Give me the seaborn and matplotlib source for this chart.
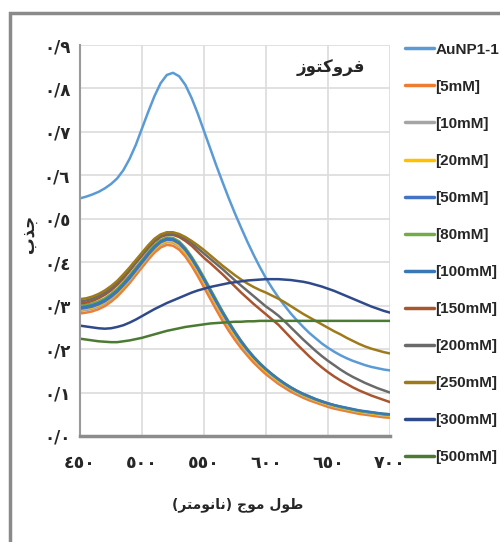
import numpy as np
import pandas as pd
import matplotlib
matplotlib.use("Agg")
import matplotlib.pyplot as plt
from matplotlib.patches import Rectangle
import seaborn as sns

# ---------------- data ----------------
wavelength = list(range(450, 701, 5))

series_names = ["AuNP1-1", "[5mM]", "[10mM]", "[20mM]", "[50mM]", "[80mM]",
                "[100mM]", "[150mM]", "[200mM]", "[250mM]", "[300mM]", "[500mM]"]

aunp = [0.547, 0.551, 0.556, 0.562, 0.570, 0.580, 0.593, 0.612, 0.638, 0.670,
        0.708, 0.746, 0.782, 0.812, 0.831, 0.836, 0.828, 0.808, 0.778, 0.742,
        0.702, 0.662, 0.622, 0.584, 0.547, 0.512, 0.479, 0.447, 0.417, 0.389,
        0.363, 0.340, 0.319, 0.300, 0.282, 0.266, 0.251, 0.237, 0.225, 0.213,
        0.203, 0.194, 0.186, 0.179, 0.173, 0.168, 0.163, 0.159, 0.156, 0.153,
        0.151]
c5 = [0.282, 0.284, 0.287, 0.292, 0.299, 0.309, 0.321, 0.336, 0.352, 0.370,
      0.388, 0.406, 0.422, 0.434, 0.440, 0.438, 0.429, 0.413, 0.392, 0.368,
      0.342, 0.316, 0.290, 0.265, 0.242, 0.221, 0.202, 0.185, 0.169, 0.155,
      0.142, 0.131, 0.120, 0.111, 0.102, 0.095, 0.088, 0.082, 0.077, 0.072,
      0.067, 0.063, 0.060, 0.057, 0.054, 0.051, 0.049, 0.047, 0.045, 0.043,
      0.042]
c10 = [0.288, 0.290, 0.293, 0.298, 0.305, 0.315, 0.327, 0.342, 0.358, 0.376,
       0.394, 0.412, 0.428, 0.440, 0.446, 0.445, 0.436, 0.421, 0.401, 0.378,
       0.353, 0.327, 0.301, 0.276, 0.252, 0.230, 0.210, 0.192, 0.176, 0.161,
       0.148, 0.136, 0.125, 0.116, 0.107, 0.099, 0.092, 0.086, 0.081, 0.076,
       0.071, 0.067, 0.064, 0.061, 0.058, 0.055, 0.053, 0.051, 0.049, 0.047,
       0.046]
c20 = [0.291, 0.293, 0.296, 0.301, 0.308, 0.318, 0.330, 0.345, 0.361, 0.379,
       0.397, 0.415, 0.431, 0.443, 0.449, 0.448, 0.439, 0.424, 0.404, 0.381,
       0.356, 0.330, 0.304, 0.279, 0.255, 0.233, 0.213, 0.195, 0.178, 0.163,
       0.150, 0.138, 0.127, 0.118, 0.109, 0.101, 0.094, 0.088, 0.082, 0.077,
       0.073, 0.069, 0.065, 0.062, 0.059, 0.056, 0.054, 0.052, 0.050, 0.048,
       0.047]
c50 = [0.293, 0.295, 0.298, 0.303, 0.310, 0.320, 0.332, 0.347, 0.363, 0.381,
       0.399, 0.417, 0.433, 0.446, 0.452, 0.451, 0.443, 0.428, 0.408, 0.385,
       0.360, 0.334, 0.308, 0.283, 0.259, 0.237, 0.216, 0.198, 0.181, 0.166,
       0.153, 0.141, 0.130, 0.120, 0.111, 0.103, 0.096, 0.090, 0.084, 0.079,
       0.075, 0.071, 0.067, 0.064, 0.061, 0.058, 0.056, 0.054, 0.052, 0.050,
       0.049]
c80 = [0.300, 0.302, 0.305, 0.310, 0.317, 0.327, 0.339, 0.354, 0.370, 0.388,
       0.405, 0.423, 0.439, 0.451, 0.457, 0.456, 0.448, 0.433, 0.413, 0.390,
       0.365, 0.339, 0.313, 0.287, 0.263, 0.240, 0.219, 0.200, 0.183, 0.168,
       0.154, 0.142, 0.131, 0.121, 0.112, 0.104, 0.097, 0.091, 0.085, 0.080,
       0.075, 0.071, 0.067, 0.064, 0.061, 0.058, 0.056, 0.054, 0.052, 0.051,
       0.050]
c100 = [0.296, 0.298, 0.301, 0.306, 0.313, 0.323, 0.335, 0.350, 0.366, 0.384,
        0.402, 0.420, 0.436, 0.448, 0.454, 0.453, 0.445, 0.430, 0.410, 0.387,
        0.362, 0.336, 0.310, 0.285, 0.261, 0.239, 0.218, 0.199, 0.182, 0.167,
        0.154, 0.142, 0.131, 0.121, 0.112, 0.104, 0.097, 0.091, 0.085, 0.080,
        0.075, 0.071, 0.068, 0.065, 0.062, 0.059, 0.057, 0.055, 0.053, 0.051,
        0.050]
c150 = [0.305, 0.307, 0.311, 0.317, 0.325, 0.335, 0.348, 0.363, 0.380, 0.398,
        0.415, 0.432, 0.447, 0.458, 0.463, 0.463, 0.458, 0.449, 0.438, 0.424,
        0.410, 0.398, 0.385, 0.372, 0.358, 0.344, 0.330, 0.317, 0.304, 0.292,
        0.280, 0.268, 0.256, 0.241, 0.226, 0.211, 0.197, 0.183, 0.170, 0.158,
        0.147, 0.137, 0.128, 0.120, 0.112, 0.105, 0.099, 0.093, 0.088, 0.083,
        0.078]
c200 = [0.310, 0.312, 0.316, 0.322, 0.330, 0.340, 0.353, 0.368, 0.384, 0.401,
        0.418, 0.435, 0.450, 0.461, 0.466, 0.466, 0.462, 0.454, 0.444, 0.432,
        0.420, 0.408, 0.396, 0.384, 0.371, 0.358, 0.346, 0.334, 0.322, 0.310,
        0.298, 0.288, 0.277, 0.264, 0.250, 0.236, 0.222, 0.209, 0.196, 0.184,
        0.173, 0.163, 0.153, 0.144, 0.136, 0.129, 0.122, 0.116, 0.110, 0.105,
        0.100]
c250 = [0.315, 0.317, 0.321, 0.327, 0.335, 0.345, 0.357, 0.372, 0.388, 0.405,
        0.422, 0.439, 0.454, 0.464, 0.469, 0.469, 0.465, 0.458, 0.449, 0.439,
        0.428, 0.416, 0.404, 0.392, 0.381, 0.370, 0.360, 0.351, 0.343, 0.336,
        0.330, 0.323, 0.316, 0.308, 0.299, 0.290, 0.281, 0.273, 0.265, 0.257,
        0.249, 0.241, 0.234, 0.226, 0.219, 0.212, 0.206, 0.201, 0.197, 0.193,
        0.190]
c300 = [0.254, 0.252, 0.250, 0.248, 0.247, 0.248, 0.251, 0.255, 0.261, 0.268,
        0.276, 0.284, 0.292, 0.299, 0.306, 0.312, 0.318, 0.324, 0.330, 0.335,
        0.339, 0.343, 0.346, 0.349, 0.352, 0.354, 0.356, 0.358, 0.359, 0.360,
        0.361, 0.361, 0.361, 0.360, 0.359, 0.357, 0.355, 0.352, 0.348, 0.344,
        0.339, 0.334, 0.328, 0.322, 0.316, 0.310, 0.304, 0.298, 0.293, 0.288,
        0.284]
c500 = [0.224, 0.222, 0.220, 0.218, 0.217, 0.216, 0.216, 0.218, 0.220, 0.223,
        0.226, 0.230, 0.234, 0.238, 0.242, 0.245, 0.248, 0.251, 0.253, 0.255,
        0.257, 0.259, 0.260, 0.261, 0.262, 0.263, 0.263, 0.264, 0.264, 0.265,
        0.265, 0.265, 0.265, 0.265, 0.265, 0.265, 0.265, 0.265, 0.265, 0.265,
        0.265, 0.265, 0.265, 0.265, 0.265, 0.265, 0.265, 0.265, 0.265, 0.265,
        0.265]

series_values = [aunp, c5, c10, c20, c50, c80, c100, c150, c200, c250, c300, c500]
for _v in series_values:
    assert len(_v) == len(wavelength)

colors = ["#5B9BD5", "#ED7D31", "#A5A5A5", "#FFC000", "#4472C4", "#70AD47",
          "#3A78B5", "#A9552F", "#6A6A6A", "#9E7A1A", "#2F4A8A", "#4B7A33"]

x_ticks = [450, 500, 550, 600, 650, 700]
x_tick_labels = ["٤٥٠", "٥٠٠", "٥٥٠", "٦٠٠", "٦٥٠", "٧٠٠"]
y_ticks = [0.0, 0.1, 0.2, 0.3, 0.4, 0.5, 0.6, 0.7, 0.8, 0.9]
y_tick_labels = ["٠/٠", "٠/١", "٠/٢", "٠/٣", "٠/٤", "٠/٥", "٠/٦", "٠/٧", "٠/٨", "٠/٩"]

title_text = "فروکتوز"
x_label = "طول موج (نانومتر)"
y_label = "جذب"

# ---------------- simple Arabic shaping for display ----------------
FORMS = {
    'ا': ('\uFE8D', '\uFE8E', None, None),
    'ب': ('\uFE8F', '\uFE90', '\uFE91', '\uFE92'),
    'ت': ('\uFE95', '\uFE96', '\uFE97', '\uFE98'),
    'ج': ('\uFE9D', '\uFE9E', '\uFE9F', '\uFEA0'),
    'ذ': ('\uFEAB', '\uFEAC', None, None),
    'ر': ('\uFEAD', '\uFEAE', None, None),
    'ز': ('\uFEAF', '\uFEB0', None, None),
    'ط': ('\uFEC1', '\uFEC2', '\uFEC3', '\uFEC4'),
    'ف': ('\uFED1', '\uFED2', '\uFED3', '\uFED4'),
    'ل': ('\uFEDD', '\uFEDE', '\uFEDF', '\uFEE0'),
    'م': ('\uFEE1', '\uFEE2', '\uFEE3', '\uFEE4'),
    'ن': ('\uFEE5', '\uFEE6', '\uFEE7', '\uFEE8'),
    'و': ('\uFEED', '\uFEEE', None, None),
    'ک': ('\uFB8E', '\uFB8F', '\uFB90', '\uFB91'),
}


def shape(s):
    out = []
    for i, c in enumerate(s):
        if c not in FORMS:
            out.append(c)
            continue
        prev = s[i - 1] if i > 0 else ''
        nxt = s[i + 1] if i + 1 < len(s) else ''
        jp = prev in FORMS and FORMS[prev][2] is not None
        jn = FORMS[c][2] is not None and nxt in FORMS
        f = FORMS[c]
        if jp and jn:
            out.append(f[3])
        elif jp:
            out.append(f[1])
        elif jn:
            out.append(f[2])
        else:
            out.append(f[0])
    vis = ''.join(reversed(out))
    return vis.translate(str.maketrans('()', ')('))


# ---------------- plot ----------------
rows = []
for name, vals in zip(series_names, series_values):
    for w, v in zip(wavelength, vals):
        rows.append({"wavelength": w, "absorbance": v, "series": name})
df = pd.DataFrame(rows)

sns.set_style("white")
plt.rcParams['font.family'] = ['DejaVu Sans']

fig = plt.figure(figsize=(5.0, 5.42), dpi=100)
ax = fig.add_axes([0.16, 1 - 436 / 542, 0.62, (436 - 45) / 542])

sns.lineplot(data=df, x="wavelength", y="absorbance", hue="series",
             hue_order=series_names, palette=dict(zip(series_names, colors)),
             linewidth=1.8, ax=ax, legend=True)

ax.set_xlim(450, 700)
ax.set_ylim(0, 0.9)
ax.set_xticks(x_ticks)
ax.set_xticklabels(x_tick_labels, fontsize=12.5, fontweight='bold')
ax.set_yticks(y_ticks)
ax.set_yticklabels(y_tick_labels, fontsize=12, fontweight='bold')
ax.tick_params(axis='both', length=0)
ax.tick_params(axis='x', pad=13)
ax.tick_params(axis='y', pad=7)

ax.grid(True, color="#dcdcdc", linewidth=1.2)
ax.set_axisbelow(True)
for side in ["top", "right"]:
    ax.spines[side].set_visible(False)
ax.spines["left"].set_color("#9a9a9a")
ax.spines["left"].set_linewidth(1.5)
ax.spines["bottom"].set_color("#8c8c8c")
ax.spines["bottom"].set_linewidth(2.5)

ax.set_xlabel("")
ax.set_ylabel("")
fig.text(238 / 500, 1 - 505 / 542, shape(x_label), fontsize=10,
         fontweight='bold', ha='center', va='center')
fig.text(29 / 500, 1 - 234 / 542, shape(y_label), rotation=90, fontsize=12,
         fontweight='bold', ha='center', va='center')

ax.text((365 - 80) / 310, (436 - 68) / 391, shape(title_text), transform=ax.transAxes,
        fontsize=12, fontweight='bold', ha='right', va='center')

handles, labels = ax.get_legend_handles_labels()
leg = ax.legend(handles, labels, loc='upper left', bbox_to_anchor=(397 / 500, 1 - 35 / 542),
                bbox_transform=fig.transFigure, frameon=False,
                prop={'family': 'Liberation Sans', 'weight': 'bold', 'size': 11},
                handlelength=1.9, handletextpad=0.12, labelspacing=1.51, borderpad=0)
for h in leg.get_lines():
    h.set_linewidth(2.5)

fig.add_artist(Rectangle((10 / 500, -0.05), 1.0, 1 - 13 / 542 + 0.05,
                         transform=fig.transFigure, fill=False,
                         edgecolor="#8a8a8a", linewidth=2.5))

fig.savefig("out.png", dpi=100)
